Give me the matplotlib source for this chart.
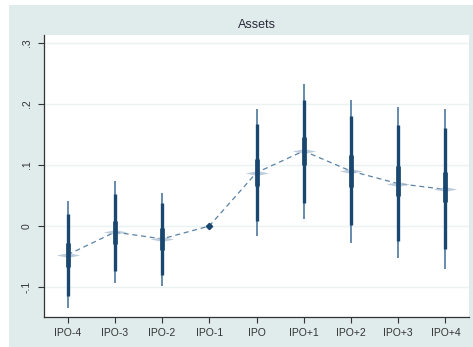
import matplotlib
matplotlib.use("Agg")
import matplotlib.pyplot as plt
from matplotlib.patches import Rectangle
from matplotlib.path import Path
import numpy as np

plt.rcParams["font.family"] = ["Liberation Sans", "DejaVu Sans"]

# Event-time coefficients around the IPO year
periods = ["IPO-4", "IPO-3", "IPO-2", "IPO-1", "IPO", "IPO+1", "IPO+2", "IPO+3", "IPO+4"]
coef = [-0.047, -0.010, -0.021, 0.0, 0.0875, 0.123, 0.090, 0.0695, 0.060]

# Outer (widest) confidence bounds
ci_outer_lo = [-0.135, -0.094, -0.098, 0.0, -0.017, 0.012, -0.027, -0.053, -0.070]
ci_outer_hi = [0.041, 0.073, 0.054, 0.0, 0.1925, 0.232, 0.207, 0.195, 0.191]
# Middle confidence bounds
ci_mid_lo = [-0.115, -0.073, -0.081, 0.0, 0.008, 0.038, 0.001, -0.025, -0.038]
ci_mid_hi = [0.020, 0.053, 0.037, 0.0, 0.167, 0.206, 0.180, 0.165, 0.160]
# Inner (narrowest) confidence bounds
ci_in_lo = [-0.067, -0.029, -0.039, 0.0, 0.065, 0.100, 0.064, 0.050, 0.039]
ci_in_hi = [-0.028, 0.008, -0.004, 0.0, 0.110, 0.146, 0.116, 0.098, 0.088]

yticks = [-0.1, 0.0, 0.1, 0.2, 0.3]
ytick_labels = ["-.1", "0", ".1", ".2", ".3"]

navy = "#1a476f"
light_navy = "#5b82a6"
glow = "#a9bccf"
bg = "#e0ebec"
grid_col = "#eaf2f3"

# Slim four-pointed star used as a soft halo around each estimate
r_in = 0.24
star_verts = []
for k in range(4):
    a = np.pi / 2 * k
    star_verts.append((np.cos(a), np.sin(a)))
    b = a + np.pi / 4
    star_verts.append((r_in * np.cos(b), r_in * np.sin(b)))
star_verts.append(star_verts[0])
star = Path(star_verts, [Path.MOVETO] + [Path.LINETO] * 7 + [Path.CLOSEPOLY])

fig = plt.figure(figsize=(4.73, 3.47), dpi=100)
fig.patch.set_facecolor("white")
fig.patches.append(Rectangle((9 / 473, 0), 1, 342 / 347, transform=fig.transFigure,
                             facecolor=bg, edgecolor="none", zorder=-10))

ax = fig.add_axes([44 / 473, (347 - 317) / 347, (469 - 44) / 473, (317 - 35) / 347])
ax.set_facecolor("white")

x = np.arange(1, len(periods) + 1)

# Dashed connecting line
ax.plot(x, coef, linestyle=(0, (4, 3)), color=light_navy, linewidth=0.9, zorder=2)

for xi, c, olo, ohi, mlo, mhi, ilo, ihi in zip(x, coef, ci_outer_lo, ci_outer_hi,
                                                ci_mid_lo, ci_mid_hi, ci_in_lo, ci_in_hi):
    if ohi == olo:
        ax.plot(xi, c, marker="D", color=navy, markersize=3.2, zorder=6)
        continue
    ax.plot(xi, c, marker=star, color=glow, markersize=17, alpha=0.75,
            markeredgewidth=0, zorder=2.5)
    ax.vlines(xi, olo, ohi, color=light_navy, linewidth=1.3, zorder=3)
    ax.vlines(xi, mlo, mhi, color=navy, linewidth=2.4, zorder=4)
    ax.vlines(xi, ilo, ihi, color=navy, linewidth=3.4, zorder=5)

ax.set_xlim(0.5, 9.5)
ax.set_ylim(-0.149, 0.313)
ax.set_xticks(x)
ax.set_xticklabels(periods)
ax.set_yticks(yticks)
ax.set_yticklabels(ytick_labels, rotation=90, va="center")

ax.yaxis.grid(True, color=grid_col, linewidth=1.0)
ax.set_axisbelow(True)

for side in ["top", "right"]:
    ax.spines[side].set_visible(False)
for side in ["left", "bottom"]:
    ax.spines[side].set_color("#333333")
    ax.spines[side].set_linewidth(0.9)

ax.tick_params(axis="both", direction="out", length=4, width=0.8, color="#333333",
               labelsize=7.5, labelcolor="#333333")
ax.tick_params(axis="x", pad=4)
ax.tick_params(axis="y", pad=5)

fig.text((44 + 469) / 2 / 473, 1 - 25 / 347, "Assets", ha="center", va="center",
         fontsize=9, color="#2a2a3a")

fig.savefig("out.png", dpi=100, facecolor=fig.get_facecolor())
